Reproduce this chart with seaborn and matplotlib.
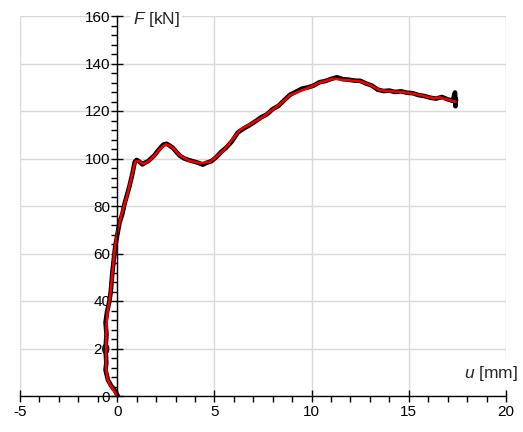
import numpy as np
import pandas as pd
import seaborn as sns
import matplotlib.pyplot as plt
from matplotlib.ticker import MultipleLocator

# courbe force-deplacement : mesure brute (noir) + lissage (rouge)
u_meas = [0.03, -0.12, -0.3, -0.48, -0.6, -0.56, -0.6, -0.55, -0.6, -0.52, -0.4, -0.33,
          -0.25, -0.17, -0.1, 0.02, 0.12, 0.26, 0.38, 0.5, 0.62, 0.78, 0.9, 1.0, 1.15,
          1.3, 1.42, 1.6, 1.75, 1.9, 2.05, 2.2, 2.38, 2.55, 2.7, 2.85, 3.0, 3.2, 3.45,
          3.7, 3.95, 4.2, 4.4, 4.6, 4.85, 5.1, 5.35, 5.6, 5.9, 6.2, 6.5, 6.8, 7.1, 7.4,
          7.7, 8.0, 8.3, 8.6, 8.9, 9.2, 9.5, 9.8, 10.1, 10.4, 10.7, 11.0, 11.3, 11.6,
          11.9, 12.2, 12.5, 12.8, 13.1, 13.4, 13.7, 14.0, 14.3, 14.6, 14.9, 15.2, 15.5,
          15.8, 16.1, 16.4, 16.7, 17.0, 17.25, 17.38, 17.4, 17.43]
F_meas = [0, 2.3, 4.2, 6.8, 11, 14, 20, 26, 31, 35.5, 40, 44, 52, 58, 63, 68.5, 73, 76.5,
          81, 84.5, 88, 93.5, 98.5, 99.4, 98.6, 97.5, 98.2, 98.9, 100.1, 101.2, 102.8,
          104.3, 105.9, 106.2, 105.4, 104.6, 103.2, 101.3, 100.0, 99.3, 98.7, 98.1, 97.4,
          98.2, 98.9, 100.6, 102.8, 104.5, 107.2, 110.9, 112.6, 114.0, 115.6, 117.3,
          118.6, 120.8, 122.2, 124.6, 126.9, 128.1, 129.4, 129.9, 130.7, 132.1, 132.6,
          133.5, 134.2, 133.4, 133.2, 132.8, 132.7, 131.6, 130.7, 129.0, 128.4, 128.6,
          128.0, 128.3, 127.7, 127.5, 126.7, 126.3, 125.6, 125.2, 125.9, 124.9, 124.3,
          127.8, 122.0, 125.0]

u_smooth = [0, -0.15, -0.35, -0.5, -0.57, -0.57, -0.55, -0.5, -0.36, -0.15, 0.0, 0.24,
            0.5, 0.76, 0.93, 1.1, 1.35, 1.6, 1.87, 2.2, 2.5, 2.8, 3.2, 3.7, 4.3, 4.8, 5.5,
            6.3, 7.4, 8.4, 8.9, 9.8, 10.4, 11.1, 11.8, 12.5, 13.0, 13.5, 14.0, 14.7, 15.6,
            16.3, 16.6, 17.4]
F_smooth = [0, 2, 4.5, 7, 12, 20, 30, 35, 42, 60, 69, 77, 84, 93, 98.7, 98.9, 97.7, 98.7,
            100.8, 104, 106, 105, 101.5, 99, 98, 98.7, 103.6, 112, 117, 123, 126.7, 129.6,
            131.9, 133.6, 133, 132.5, 131, 128.8, 128.3, 128, 126.7, 125.3, 125.7, 123.9]

df_meas = pd.DataFrame({"u": u_meas, "F": F_meas})
df_smooth = pd.DataFrame({"u": u_smooth, "F": F_smooth})

sns.set_theme(style="whitegrid")
plt.rcParams["font.family"] = ["Liberation Sans", "DejaVu Sans"]
plt.rcParams["axes.unicode_minus"] = False
plt.rcParams["mathtext.fontset"] = "custom"
plt.rcParams["mathtext.rm"] = "Liberation Sans"
plt.rcParams["mathtext.it"] = "Liberation Sans:italic"

fig = plt.figure(figsize=(5.23, 4.32), dpi=100)
ax = fig.add_axes([20 / 523, 1 - 396 / 432, 486 / 523, 380 / 432])

sns.lineplot(data=df_meas, x="u", y="F", sort=False, estimator=None,
             color="black", lw=3.3, ax=ax)
sns.lineplot(data=df_smooth, x="u", y="F", sort=False, estimator=None,
             color="#f50000", lw=1.8, ax=ax)

ax.set_xlim(-5, 20)
ax.set_ylim(0, 160)
ax.xaxis.set_major_locator(MultipleLocator(5))
ax.xaxis.set_minor_locator(MultipleLocator(1))
ax.yaxis.set_major_locator(MultipleLocator(20))
ax.yaxis.set_minor_locator(MultipleLocator(4))

ax.grid(True, which="major", color="#d9d9d9", lw=1)
ax.grid(False, which="minor")
ax.set_axisbelow(True)

for s in ["top", "right"]:
    ax.spines[s].set_visible(False)
ax.spines["left"].set_position(("data", 0))
for s in ["left", "bottom"]:
    ax.spines[s].set_color("black")
    ax.spines[s].set_linewidth(1)

ax.tick_params(which="both", bottom=True, left=True, color="black", width=1,
               labelsize=11, labelcolor="black")
ax.tick_params(which="major", direction="inout", length=9)
ax.tick_params(which="minor", direction="out", length=4)
ax.tick_params(axis="x", pad=2)
ax.tick_params(axis="y", pad=0.5)

ax.set_xlabel("")
ax.set_ylabel("")

ax.text(0.8, 158.5, "$F$ [kN]", fontsize=12.5, ha="left", va="center",
        bbox=dict(facecolor="white", edgecolor="none", pad=1.5), clip_on=False)
ax.text(20.6, 9.3, "$u$ [mm]", fontsize=12.5, ha="right", va="center",
        bbox=dict(facecolor="white", edgecolor="none", pad=1.5), clip_on=False)

fig.savefig("out.png", dpi=100)
